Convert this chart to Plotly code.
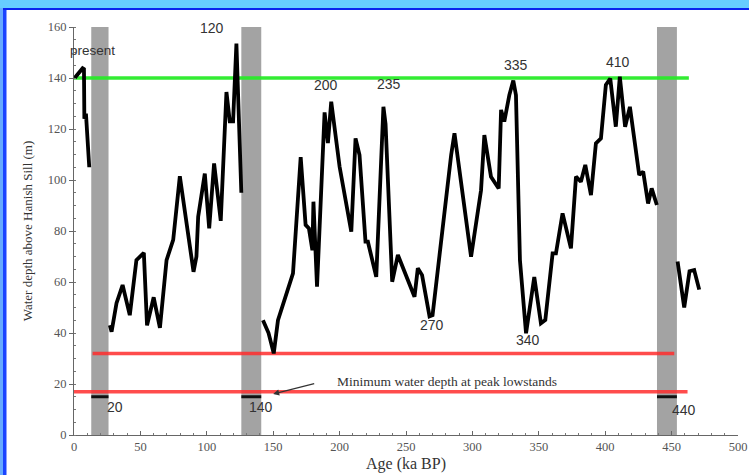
import plotly.graph_objects as go

# ---- data ----
age_a = [0.5, 4, 6.5, 7.5, 7.8, 9, 11.5]
depth_a = [140, 142.5, 143.8, 143.5, 124, 126, 105]

age_b = [27, 28.3, 32, 36.6, 42, 47, 52.6, 55, 60, 64.7, 69.7, 74.7, 79.7, 84.7, 90, 92.2,
         93.5, 98.5, 101.8, 105.5, 110.5, 114.8, 117.3, 119.8, 122.3, 126]
depth_b = [43, 40.5, 51.7, 58.8, 47, 68.6, 71.4, 43, 54, 42, 68.6, 76.5, 101.5, 83, 64, 70,
           85.6, 102.5, 81, 106.5, 84, 134.5, 123, 123, 153.5, 95]

age_c = [142.3, 144.9, 146.5, 150.4, 153.6, 164.9, 170.7, 174.4, 176.9, 179.5, 180.3, 183,
         188.7, 191.2, 193.7, 200, 208.8, 212, 215, 219.5, 221.3, 227.6, 233, 234.6, 239.6,
         243.9, 256.4, 258.9, 262.1, 267.7, 270, 284, 286.5, 299, 306.5, 309, 314, 319.8,
         321.6, 324, 327.8, 330.8, 332.8, 335.8, 340.4, 346.6, 351.6, 354.9, 360.4, 362.9,
         367.9, 374.2, 378, 381.7, 385, 389.3, 393, 396.8, 400.5, 403.8, 408, 411, 415,
         418.6, 425.6, 428.6, 432.3, 435, 438.9]
depth_c = [45, 41.8, 40, 32, 45, 63.4, 109, 82.4, 81, 72.5, 91.5, 58.2,
           126.5, 114.5, 130.7, 105.2, 79.7, 116.3, 109.8, 75.8, 75.8, 62, 128.7, 122, 60.1,
           70.6, 54.2, 65.4, 62.7, 46.5, 47, 109.8, 118.3, 69.9, 96, 117.6, 101.3, 96.7,
           127.5, 122.9, 133.3, 139, 133.3, 68.6, 39.9, 62, 43.8, 45.1, 71.2, 71.2,
           86.9, 73.2, 101.3, 99.3, 105.9, 94.1, 114.4, 116.3, 137.3, 139.8, 120.9, 140.5, 120.9,
           128.7, 102, 103.3, 90.8, 96.7, 90.2]

age_d = [454.5, 459.5, 463.5, 467, 470.8]
depth_d = [68, 50, 64.2, 64.7, 57]

lowstand_bands = [(13, 26), (126, 141), (439, 454)]
lowstand_marker_depth = 15
highstand_level = 140
highstand_extent = (0, 463)
upper_red_level = 32
upper_red_extent = (14, 452)
lower_red_level = 17
lower_red_extent = (0, 462)

peak_labels = ["present", "120", "200", "235", "335", "410"]
peak_label_x = [14, 104, 190, 237, 333, 410]
peak_label_y = [150.6, 159.6, 137.3, 137.5, 145, 146.4]
low_labels = ["270", "340", "20", "140", "440"]
low_label_x = [269.5, 342, 31, 140.5, 459]
low_label_y = [43.1, 37.3, 11, 11, 9.8]

x_ticks = [0, 50, 100, 150, 200, 250, 300, 350, 400, 450, 500]
y_ticks = [0, 20, 40, 60, 80, 100, 120, 140, 160]

# ---- figure ----
fig = go.Figure()

ages = age_a + [None] + age_b + [None] + age_c + [None] + age_d
depths = depth_a + [None] + depth_b + [None] + depth_c + [None] + depth_d
fig.add_trace(go.Scatter(x=ages, y=depths, mode="lines",
                         line=dict(color="black", width=3.8),
                         connectgaps=False, hoverinfo="skip", showlegend=False))

shapes = []
for x0, x1 in lowstand_bands:
    shapes.append(dict(type="rect", xref="x", yref="y", x0=x0, x1=x1, y0=0, y1=160,
                       fillcolor="#a3a3a3", line=dict(width=0), layer="below"))
for x0, x1 in lowstand_bands:
    shapes.append(dict(type="line", xref="x", yref="y", x0=x0, x1=x1,
                       y0=lowstand_marker_depth, y1=lowstand_marker_depth,
                       line=dict(color="#111111", width=3), layer="below"))
shapes.append(dict(type="line", xref="x", yref="y", x0=highstand_extent[0], x1=highstand_extent[1],
                   y0=highstand_level, y1=highstand_level,
                   line=dict(color="rgba(40,235,40,0.95)", width=3.5), layer="below"))
shapes.append(dict(type="line", xref="x", yref="y", x0=upper_red_extent[0], x1=upper_red_extent[1],
                   y0=upper_red_level, y1=upper_red_level,
                   line=dict(color="rgba(255,45,45,0.85)", width=3.5), layer="below"))
shapes.append(dict(type="line", xref="x", yref="y", x0=lower_red_extent[0], x1=lower_red_extent[1],
                   y0=lower_red_level, y1=lower_red_level,
                   line=dict(color="rgba(255,45,45,0.85)", width=3.5), layer="below"))

# frame (top band and left strip), paper coordinates
W, H = 749, 475
L, R, T, B = 74, 11, 27, 40
pw, ph = W - L - R, H - T - B


def px(xp):
    return (xp - L) / pw


def py(yp):
    return (H - B - yp) / ph


shapes.append(dict(type="rect", xref="paper", yref="paper", x0=px(0), x1=px(W), y0=py(8), y1=py(0),
                   fillcolor="#66ccff", line=dict(width=0), layer="above"))
shapes.append(dict(type="rect", xref="paper", yref="paper", x0=px(0), x1=px(W), y0=py(10), y1=py(8),
                   fillcolor="#0a22ee", line=dict(width=0), layer="above"))
shapes.append(dict(type="rect", xref="paper", yref="paper", x0=px(0), x1=px(3), y0=py(H), y1=py(8),
                   fillcolor="#66aaff", line=dict(width=0), layer="above"))
shapes.append(dict(type="rect", xref="paper", yref="paper", x0=px(3), x1=px(6.5), y0=py(H), y1=py(10),
                   fillcolor="#1a44ff", line=dict(width=0), layer="above"))

annotations = []
for t, x, y in zip(peak_labels + low_labels, peak_label_x + low_label_x, peak_label_y + low_label_y):
    annotations.append(dict(x=x, y=y, xref="x", yref="y", text=t, showarrow=False,
                            font=dict(family="Liberation Sans, Arial", size=14 if t != "present" else 13.5,
                                      color="#333333")))
annotations.append(dict(x=281, y=20.8, xref="x", yref="y",
                        text="Minimum water depth at peak lowstands", showarrow=False,
                        font=dict(family="Liberation Serif, Times New Roman", size=13.5, color="#333333")))
annotations.append(dict(x=150, y=16.1, xref="x", yref="y", ax=182, ay=20.3, axref="x", ayref="y",
                        text="", showarrow=True, arrowhead=2, arrowsize=1, arrowwidth=1.2,
                        arrowcolor="#333333"))

fig.update_layout(
    width=W, height=H, autosize=False,
    margin=dict(l=L, r=R, t=T, b=B, autoexpand=False),
    paper_bgcolor="white", plot_bgcolor="white",
    shapes=shapes, annotations=annotations, showlegend=False,
    xaxis=dict(range=[0, 500], tickvals=x_ticks, showgrid=False, zeroline=False, automargin=False,
               showline=True, linecolor="#666666", linewidth=1,
               ticks="inside", ticklen=4, tickcolor="#666666",
               minor=dict(dtick=10, ticks="inside", ticklen=2, tickcolor="#777777"),
               tickfont=dict(family="Liberation Serif, Times New Roman", size=12.5, color="#555555"),
               title=dict(text="Age (ka BP)", standoff=4,
                          font=dict(family="Liberation Serif, Times New Roman", size=16, color="#333333"))),
    yaxis=dict(range=[0, 160], tickvals=y_ticks, showgrid=False, zeroline=False, automargin=False,
               showline=True, linecolor="#666666", linewidth=1,
               ticks="outside", ticklen=4, tickcolor="#666666",
               minor=dict(dtick=5, ticks="inside", ticklen=2, tickcolor="#777777"),
               tickfont=dict(family="Liberation Serif, Times New Roman", size=12.5, color="#555555"),
               title=dict(text="Water depth above Hanish Sill (m)", standoff=12,
                          font=dict(family="Liberation Serif, Times New Roman", size=13, color="#333333"))),
)

fig.write_html("out.html", config={"displayModeBar": False},
               post_script="document.body.style.margin='0px';")
